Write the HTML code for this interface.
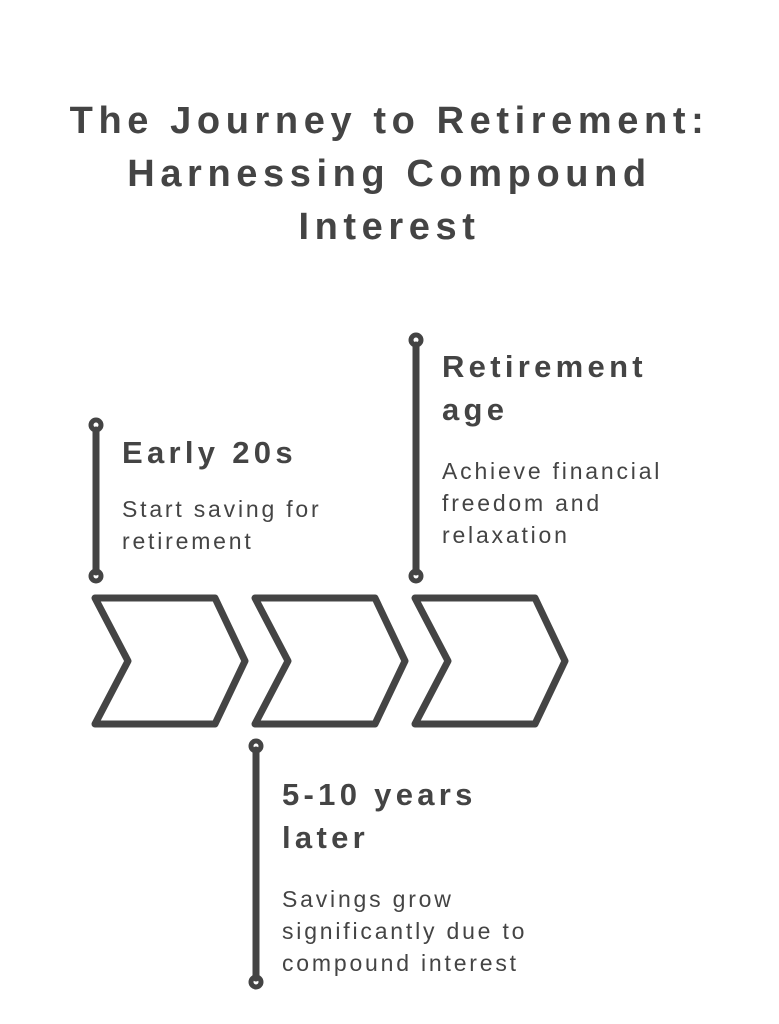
<!DOCTYPE html>
<html><head><meta charset="utf-8"><style>
body{margin:0;width:779px;height:1024px;background:#fff;overflow:hidden;position:relative;font-family:"Liberation Sans",sans-serif;color:#444}
.t{position:absolute;left:0;width:779px;text-align:center;font-weight:bold;font-size:38px;line-height:53px;top:95px;letter-spacing:5.6px}
.h{position:absolute;font-weight:bold;font-size:31px;line-height:43px;letter-spacing:4.3px;white-space:nowrap}
.d{position:absolute;font-size:23px;line-height:32px;letter-spacing:2.8px;white-space:nowrap}
</style></head><body>
<div class="t">The Journey to Retirement:<br>Harnessing Compound<br>Interest</div>
<svg width="779" height="1024" style="position:absolute;left:0;top:0" fill="none" stroke="#444" stroke-width="7" stroke-linejoin="round" stroke-linecap="round">
<polygon points="95,598 215,598 245,661 215,724 95,724 128,661"/>
<polygon points="255,598 375,598 405,661 375,724 255,724 288,661"/>
<polygon points="415,598 535,598 565,661 535,724 415,724 448,661"/>
<line x1="96" y1="430" x2="96" y2="572"/>
<line x1="416" y1="345" x2="416" y2="572"/>
<line x1="256" y1="750" x2="256" y2="978"/>
<g stroke-width="5"><circle cx="96" cy="425" r="5"/><circle cx="96" cy="576" r="5"/><circle cx="416" cy="340" r="5"/><circle cx="416" cy="576" r="5"/><circle cx="256" cy="746" r="5"/><circle cx="256" cy="982" r="5"/></g>
</svg>
<div class="h" style="left:122px;top:431px">Early 20s</div>
<div class="d" style="left:122px;top:493px">Start saving for<br>retirement</div>
<div class="h" style="left:442px;top:345px">Retirement<br>age</div>
<div class="d" style="left:442px;top:455px">Achieve financial<br>freedom and<br>relaxation</div>
<div class="h" style="left:282px;top:773px">5-10 years<br>later</div>
<div class="d" style="left:282px;top:883px">Savings grow<br>significantly due to<br>compound interest</div>
</body></html>
